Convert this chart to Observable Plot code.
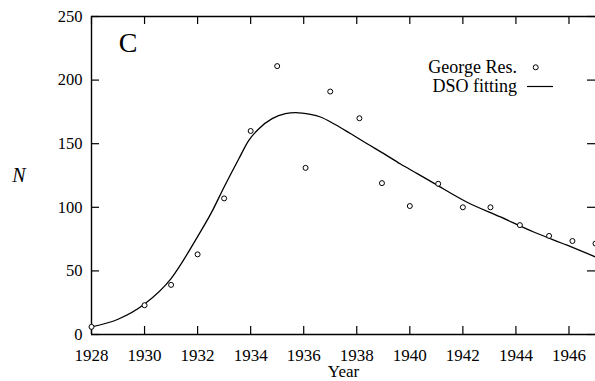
<!DOCTYPE html>
<html><head><meta charset="utf-8">
<script src="https://cdn.jsdelivr.net/npm/d3@7"></script>
<script src="https://cdn.jsdelivr.net/npm/@observablehq/plot@0.6"></script>
<style>
body{margin:0;background:#fff}
#wrap{position:relative;width:595px;height:381px;overflow:hidden}
#legend{position:absolute;left:0;top:0;pointer-events:none}
</style></head><body><div id="wrap"></div>
<script>
const obsYears = [1928, 1930, 1931, 1932, 1933, 1934, 1935, 1936.07, 1937, 1938.1, 1938.95, 1940, 1941.07, 1942, 1943.04, 1944.15, 1945.25, 1946.13, 1947];
const obsN = [6, 23, 39, 63, 107, 160, 211, 131, 191, 170, 119, 101, 118.5, 100, 100, 86, 77.5, 73.5, 71.5];
const fitYears = [1928, 1929, 1930, 1931, 1932, 1932.5, 1933, 1933.55, 1933.93, 1934.31, 1934.81, 1935.31, 1935.69, 1936.25, 1936.63, 1937.13, 1937.76, 1938.39, 1939.02, 1939.65, 1940.28, 1940.9, 1942.16, 1943.42, 1944.67, 1945.93, 1947];
const fitN = [6, 12, 24, 44, 77, 95, 116, 138, 152.6, 161.8, 169.7, 173.6, 174.4, 173, 171, 165.7, 158, 150, 142.2, 134, 126.5, 119, 104, 92.4, 80.6, 70.2, 61];
const xTicks = [1928, 1930, 1932, 1934, 1936, 1938, 1940, 1942, 1944, 1946];
const yTicks = [0, 50, 100, 150, 200, 250];
const legendLabels = ["George Res.", "DSO fitting"];
const panelLabel = "C";

const W = 595, H = 381, mL = 91, mT = 16, mB = 47, mR = 0;
const pw = W - mL - mR, ph = H - mT - mB, tl = 8;
const obs = obsYears.map((x, i) => ({x, y: obsN[i]}));
const fit = fitYears.map((x, i) => ({x, y: fitN[i]}));
const fontCss = "font-family:'Liberation Serif'";

const chart = Plot.plot({
  width: W, height: H,
  marginLeft: mL, marginTop: mT, marginBottom: mB, marginRight: mR,
  style: {fontSize: "16px", background: "#fff", color: "#000"},
  x: {domain: [1928, 1947], ticks: xTicks, tickFormat: d => String(d)},
  y: {domain: [0, 250], ticks: yTicks},
  marks: [
    Plot.axisX(xTicks, {tickSize: 0, tickPadding: 14, label: null, fontSize: 17, tickFormat: d => String(d)}),
    Plot.axisY(yTicks, {tickSize: 0, tickPadding: 9, label: null, fontSize: 16.5}),
    Plot.ruleX([1928], {stroke: "#000", strokeWidth: 1.4}),
    Plot.ruleY([0], {stroke: "#000", strokeWidth: 1.6}),
    Plot.ruleY([250], {stroke: "#000", strokeWidth: 1.4}),
    Plot.tickX(xTicks, {x: d => d, insetTop: ph - tl, stroke: "#000", strokeWidth: 1.2}),
    Plot.tickX(xTicks, {x: d => d, insetBottom: ph - tl, stroke: "#000", strokeWidth: 1.2}),
    Plot.tickY(yTicks, {y: d => d, insetRight: pw - tl, stroke: "#000", strokeWidth: 1.2}),
    Plot.tickY(yTicks, {y: d => d, insetLeft: pw - tl, stroke: "#000", strokeWidth: 1.2}),
    Plot.line(fit, {x: "x", y: "y", curve: "monotone-x", stroke: "#000", strokeWidth: 1.3}),
    Plot.dot(obs, {x: "x", y: "y", r: 2.5, stroke: "#000", fill: "#fff", strokeWidth: 1}),
    Plot.text([panelLabel], {frameAnchor: "top-left", dx: 36.5, dy: 27, fontSize: 28, textAnchor: "middle", lineAnchor: "middle", fill: "#000"}),
    Plot.text(["N"], {frameAnchor: "left", dx: -72.7, fontStyle: "italic", fontSize: 20, textAnchor: "middle", lineAnchor: "middle", fill: "#000"}),
    Plot.text(["Year"], {frameAnchor: "bottom", dy: 37.5, fontSize: 17, textAnchor: "middle", lineAnchor: "middle", fill: "#000"})
  ]
});
const wrap = document.getElementById("wrap");
wrap.appendChild(chart);
chart.querySelectorAll("text").forEach(t => {
  const fs = t.getAttribute("font-style") || (t.parentNode && t.parentNode.getAttribute && t.parentNode.getAttribute("font-style"));
  t.setAttribute("style", fontCss + (fs ? ";font-style:" + fs : ""));
});

// legend overlay
const ns = "http://www.w3.org/2000/svg";
const lg = document.createElementNS(ns, "svg");
lg.setAttribute("id", "legend");
lg.setAttribute("width", W); lg.setAttribute("height", H);
const baselines = [72.7, 92.3];
legendLabels.forEach((t, i) => {
  const tx = document.createElementNS(ns, "text");
  tx.setAttribute("x", 517); tx.setAttribute("y", baselines[i]);
  tx.setAttribute("text-anchor", "end");
  tx.setAttribute("style", fontCss + ";font-size:18px");
  tx.textContent = t;
  lg.appendChild(tx);
});
const c = document.createElementNS(ns, "circle");
c.setAttribute("cx", 535.7); c.setAttribute("cy", 67.3); c.setAttribute("r", 2.5);
c.setAttribute("fill", "#fff"); c.setAttribute("stroke", "#000");
lg.appendChild(c);
const l = document.createElementNS(ns, "line");
l.setAttribute("x1", 527); l.setAttribute("x2", 553); l.setAttribute("y1", 86.5); l.setAttribute("y2", 86.5);
l.setAttribute("stroke", "#000"); l.setAttribute("stroke-width", 1.2);
lg.appendChild(l);
wrap.appendChild(lg);
</script></body></html>
